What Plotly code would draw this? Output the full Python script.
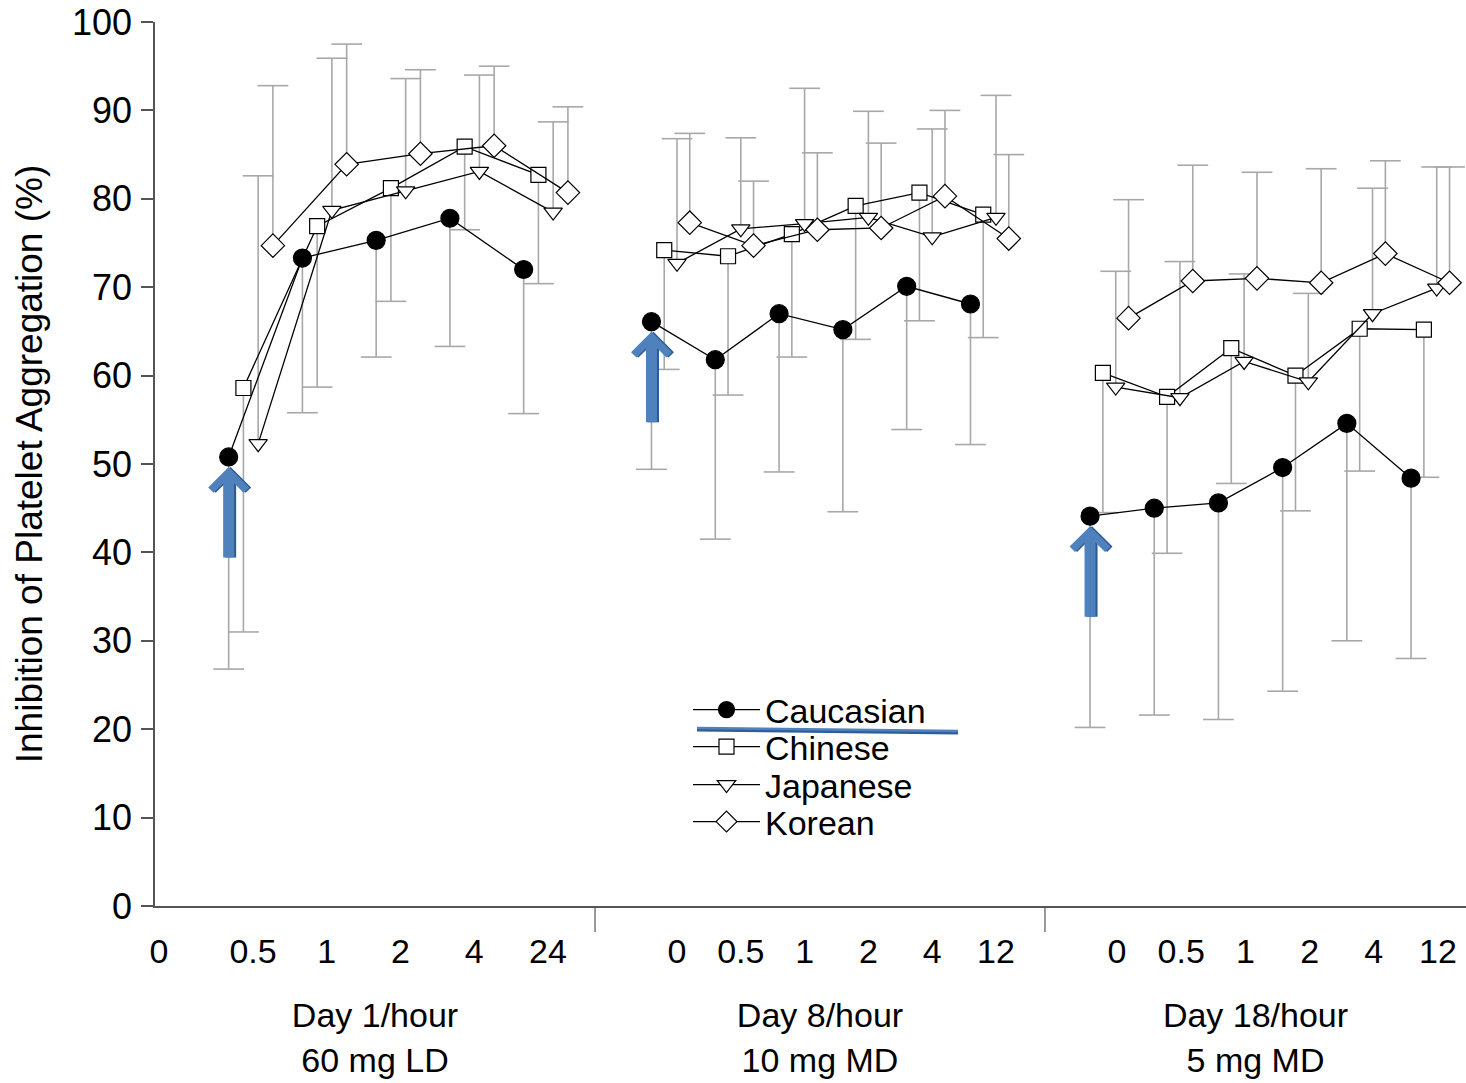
import plotly.graph_objects as go

# ---------------- data ----------------
series_names = ["Caucasian", "Chinese", "Japanese", "Korean"]
panel_labels = ["Day 1/hour<br>60 mg LD", "Day 8/hour<br>10 mg MD", "Day 18/hour<br>5 mg MD"]
hours_day1 = ["0", "0.5", "1", "2", "4", "24"]
hours_day8 = ["0", "0.5", "1", "2", "4", "12"]
hours_day18 = ["0", "0.5", "1", "2", "4", "12"]

# mean IPA (%) per panel: [Day 1, Day 8, Day 18]
caucasian_mean = [[None, 50.8, 73.3, 75.3, 77.8, 72.0],
                  [66.1, 61.8, 67.0, 65.2, 70.1, 68.1],
                  [44.1, 45.0, 45.6, 49.6, 54.6, 48.4]]
chinese_mean = [[None, 58.6, 76.9, 81.2, 85.9, 82.7],
                [74.2, 73.5, 76.0, 79.2, 80.7, 78.2],
                [60.3, 57.6, 63.1, 60.0, 65.3, 65.2]]
japanese_mean = [[None, 52.3, 78.7, 80.9, 83.1, 78.5],
                 [72.7, 76.6, 77.2, 77.9, 75.7, 77.9],
                 [58.7, 57.5, 61.6, 59.3, 67.0, 69.9]]
korean_mean = [[None, 74.7, 83.9, 85.1, 86.0, 80.7],
               [77.3, 74.7, 76.5, 76.7, 80.3, 75.5],
               [66.5, 70.7, 71.0, 70.5, 73.8, 70.5]]

# end of the one-sided SD bar (mean - SD for Caucasian/Chinese, mean + SD for Japanese/Korean)
caucasian_sd_end = [[None, 26.8, 55.8, 62.1, 63.3, 55.7],
                    [49.4, 41.5, 49.1, 44.6, 53.9, 52.2],
                    [20.2, 21.6, 21.1, 24.3, 30.0, 28.0]]
chinese_sd_end = [[None, 31.0, 58.7, 68.4, 76.5, 70.4],
                  [60.7, 57.8, 62.1, 64.1, 66.2, 64.3],
                  [44.5, 39.9, 47.8, 44.7, 49.2, 48.5]]
japanese_sd_end = [[None, 82.6, 95.9, 93.6, 94.0, 88.7],
                   [86.8, 86.9, 92.5, 89.9, 87.9, 91.7],
                   [71.8, 72.9, 71.5, 69.3, 81.2, 83.6]]
korean_sd_end = [[None, 92.8, 97.5, 94.6, 95.0, 90.4],
                 [87.4, 82.0, 85.2, 86.3, 90.0, 85.0],
                 [79.9, 83.8, 83.0, 83.4, 84.3, 83.6]]

y_ticks = [0, 10, 20, 30, 40, 50, 60, 70, 80, 90, 100]

# ---------------- layout / style ----------------
W, H = 1466, 1083
M_L, M_R, M_T, M_B = 155, 0, 22, 177
PLOT_W = W - M_L - M_R
PLOT_H = H - M_T - M_B
FONT = "Liberation Sans, Arial, sans-serif"
AXIS_COLOR = "#555555"
ERR_COLOR = "#a8a8a8"

# panel boundaries (px), and where slot index `anchor` sits with its spacing
panel_px = [(155, 595), (595, 1045), (1045, 1466)]
slot_anchor = [(1, 253, 73.75), (0, 677, 63.8), (0, 1117, 64.2)]
dodge = [-0.4, -0.2, 0.0, 0.2]
panel_dodge_shift = [0.07, 0.0, -0.02]

styles = {
    "Caucasian": dict(symbol="circle", size=18, color="black"),
    "Chinese": dict(symbol="square", size=15, color="white"),
    "Japanese": dict(symbol="triangle-down", size=16, color="white"),
    "Korean": dict(symbol="diamond", size=18, color="white"),
}
legend_ids = ["legend", "legend2", "legend3", "legend4"]
legend_row_px = [710, 747, 785, 822]

means = [caucasian_mean, chinese_mean, japanese_mean, korean_mean]
ends = [caucasian_sd_end, chinese_sd_end, japanese_sd_end, korean_sd_end]
hours = [hours_day1, hours_day8, hours_day18]


def paper_x(px):
    return (px - M_L) / PLOT_W


def paper_y(py):
    return (M_T + PLOT_H - py) / PLOT_H


fig = go.Figure()
axis_ids = ["x", "x2", "x3"]

# error bars first (under the lines and markers)
for p in range(3):
    for k, name in enumerate(series_names):
        sx, sy, cx, cy = [], [], [], []
        for i, (m, e) in enumerate(zip(means[k][p], ends[k][p])):
            if m is None:
                continue
            xi = i + dodge[k] + panel_dodge_shift[p]
            sx += [xi, xi, None]
            sy += [m, e, None]
            cx.append(xi)
            cy.append(e)
        fig.add_trace(go.Scatter(x=sx, y=sy, mode="lines", xaxis=axis_ids[p], yaxis="y",
                                 line=dict(color=ERR_COLOR, width=1.6),
                                 showlegend=False, hoverinfo="skip"))
        fig.add_trace(go.Scatter(x=cx, y=cy, mode="markers", xaxis=axis_ids[p], yaxis="y",
                                 marker=dict(symbol="line-ew", size=22,
                                             line=dict(color=ERR_COLOR, width=1.6)),
                                 showlegend=False, hoverinfo="skip"))

# mean lines with markers
for k, name in enumerate(series_names):
    st = styles[name]
    for p in range(3):
        xs, ys = [], []
        for i, m in enumerate(means[k][p]):
            if m is None:
                continue
            xs.append(i + dodge[k] + panel_dodge_shift[p])
            ys.append(m)
        fig.add_trace(go.Scatter(
            x=xs, y=ys, mode="lines+markers", name=name, legendgroup=name,
            legend=legend_ids[k], showlegend=(p == 0), xaxis=axis_ids[p], yaxis="y",
            line=dict(color="black", width=1.3),
            marker=dict(symbol=st["symbol"], size=st["size"], color=st["color"],
                        line=dict(color="black", width=1.2)),
        ))

layout = dict(
    width=W, height=H,
    margin=dict(l=M_L, r=M_R, t=M_T, b=M_B, pad=0),
    paper_bgcolor="white", plot_bgcolor="white",
    font=dict(family=FONT, color="black", size=34),
    showlegend=True,
    yaxis=dict(range=[0, 100], tickvals=y_ticks, showgrid=False, zeroline=False,
               showline=True, linecolor=AXIS_COLOR, linewidth=1.5,
               ticks="outside", ticklen=12, tickwidth=1.5, tickcolor=AXIS_COLOR,
               ticklabelstandoff=2, anchor="x",
               tickfont=dict(family=FONT, size=36, color="black"),
               title=dict(text="Inhibition of Platelet Aggregation (%)",
                          font=dict(family=FONT, size=37, color="black"), standoff=18)),
)

for k, lid in enumerate(legend_ids):
    layout[lid] = dict(x=paper_x(688), y=paper_y(legend_row_px[k]), xanchor="left",
                       yanchor="middle", bgcolor="rgba(0,0,0,0)",
                       font=dict(family=FONT, size=34, color="black"),
                       itemwidth=67, tracegroupgap=0)

shapes = []
for p in range(3):
    a, b = panel_px[p]
    anchor_idx, anchor_px, step = slot_anchor[p]
    rng = [anchor_idx + (a - anchor_px) / step, anchor_idx + (b - anchor_px) / step]
    tickvals = list(range(len(hours[p])))
    if means[0][p][0] is None:
        # first slot of day 1 has no data: its "0" label sits at the origin
        tickvals[0] = rng[0] + 4 / step
    key = "xaxis" if p == 0 else f"xaxis{p + 1}"
    layout[key] = dict(
        domain=[paper_x(a), paper_x(b)], range=rng, anchor="y",
        tickvals=tickvals, ticktext=hours[p], ticks="", showgrid=False, zeroline=False,
        showline=True, linecolor=AXIS_COLOR, linewidth=1.5, ticklabelstandoff=14,
        tickfont=dict(family=FONT, size=34, color="black"),
        title=dict(text=panel_labels[p], font=dict(family=FONT, size=34, color="black"),
                   standoff=35),
    )
    if p > 0:
        shapes.append(dict(type="line", xref="paper", yref="paper",
                           x0=paper_x(a), x1=paper_x(a), y0=0, y1=-26 / PLOT_H,
                           line=dict(color=AXIS_COLOR, width=1.2)))

# blue underline under the "Caucasian" legend entry
shapes.append(dict(type="line", xref="paper", yref="paper",
                   x0=paper_x(697), x1=paper_x(958), y0=paper_y(730), y1=paper_y(733),
                   line=dict(color="#2f5d99", width=3)))
shapes.append(dict(type="line", xref="paper", yref="paper",
                   x0=paper_x(697), x1=paper_x(958), y0=paper_y(728), y1=paper_y(731),
                   line=dict(color="#4f81bd", width=2.5)))
layout["shapes"] = shapes

# blue up-arrows pointing at the first Caucasian point of each panel
annotations = []
for p in range(3):
    vals = caucasian_mean[p]
    i0 = next(i for i, v in enumerate(vals) if v is not None)
    xi = i0 + dodge[0] + panel_dodge_shift[p]
    for color, dx in (("#2c5a92", 2), ("#4f81bd", 0)):
        annotations.append(dict(
            x=xi, y=vals[i0], xref=axis_ids[p], yref="y", text="", showarrow=True,
            ax=0, ay=102, axref="pixel", ayref="pixel", xshift=dx,
            arrowhead=4, arrowsize=0.62, arrowwidth=11, arrowcolor=color, standoff=10,
        ))
layout["annotations"] = annotations

fig.update_layout(**layout)
fig.write_html("out.html")
